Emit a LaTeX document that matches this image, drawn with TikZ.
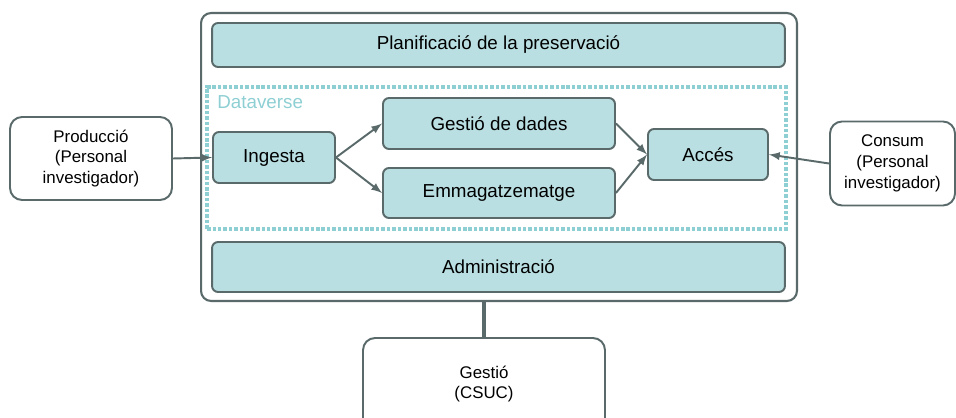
\documentclass[tikz,border=0pt]{standalone}
\usepackage{fontspec}
\setmainfont{Liberation Sans}
\usetikzlibrary{positioning}

\definecolor{boxline}{HTML}{5A6A6A}
\definecolor{boxfill}{HTML}{BADFE2}
\definecolor{dvline}{HTML}{8ECFD3}

\begin{document}
\begin{tikzpicture}[x=0.02cm, y=-0.02cm]

        % Setup the styles for the boxes
        \tikzset{inner box/.style={draw=boxline, fill=boxfill,
                                   rounded corners=0.12cm,
                                   line width=1.1pt,
                                   font=\fontsize{10.7}{12.8}\selectfont},
                 actor box/.style={draw=boxline, fill=white,
                                   rounded corners=0.24cm,
                                   line width=1.1pt, align=center,
                                   font=\fontsize{9.6}{11.9}\selectfont}}

        \path[use as bounding box, clip] (0,0) rectangle (956,418);

        % Draw the frames
        \node[draw=boxline, rounded corners=0.2cm, line width=1.2pt,
              minimum width=11.92cm, minimum height=5.76cm] at (499,157) (System) {};
        \node[draw=dvline, line width=2pt, dash pattern=on 2pt off 1.1pt,
              minimum width=11.58cm, minimum height=2.84cm] at (496.5,158) (Dataverse) {};
        \node[text=dvline, anchor=west, inner sep=0pt,
              font=\fontsize{10.7}{12.8}\selectfont] at (217,102) (DataverseLabel) {Dataverse};

        % Draw the boxes
        \node[inner box, minimum width=11.46cm, minimum height=0.88cm] at (498.5,45)  (Planning)  {Planificació de la preservació};
        \node[inner box, minimum width=2.44cm,  minimum height=1.02cm] at (274,157.5) (Ingest)    {Ingesta};
        \node[inner box, minimum width=4.64cm,  minimum height=1.02cm] at (499,123.5) (DataMgmt)  {Gestió de dades};
        \node[inner box, minimum width=4.64cm,  minimum height=1.0cm]  at (499,193)   (Storage)   {Emmagatzematge};
        \node[inner box, minimum width=2.4cm,   minimum height=1.02cm] at (708,154.5) (Access)    {Accés};
        \node[inner box, minimum width=11.46cm, minimum height=1.0cm]  at (498.5,267) (Admin)     {Administració};

        \node[actor box, minimum width=3.24cm, minimum height=1.66cm] at (91,158.5)    (Producer) {Producció\\(Personal\\investigador)};
        \node[actor box, minimum width=2.5cm,  minimum height=1.68cm] at (892.5,163.5) (Consumer) {Consum\\(Personal\\investigador)};
        \node[actor box, minimum width=4.84cm, minimum height=2.0cm] at (484,388) (Manager) {};
        \node[font=\fontsize{9.6}{11.9}\selectfont, align=center] at (484,384) (ManagerText) {Gestió\\(CSUC)};

        % Connect the boxes with arrows
        \draw[boxline, line width=1.1pt, >=latex]
            (Producer.east) edge[->] (Ingest.west)
            (Ingest.east)   edge[->] (DataMgmt.west)
            (Ingest.east)   edge[->] (Storage.west)
            (DataMgmt.east) edge[->] (Access.west)
            (Storage.east)  edge[->] (Access.west)
            (Consumer.west) edge[->] (Access.east);
        \draw[boxline, line width=2.2pt] (System.south -| Manager.north) -- (Manager.north);
\end{tikzpicture}
\end{document}
